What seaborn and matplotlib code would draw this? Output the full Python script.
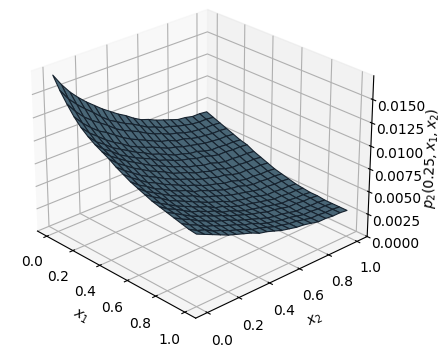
import numpy as np
import matplotlib
matplotlib.use("Agg")
import matplotlib.pyplot as plt
import seaborn as sns

# surface heights, rows x1, columns x2, in units of 1e-4
x1_values = [i / 20 for i in range(21)]
x2_values = [i / 20 for i in range(21)]
p2_values = [
    [171, 158, 147, 138, 130, 123, 116, 110, 104, 99, 93, 88, 85, 81, 78, 75, 72, 71, 69, 69, 68],
    [158, 146, 137, 129, 122, 114, 107, 102, 97, 93, 88, 83, 80, 76, 74, 71, 69, 67, 66, 66, 65],
    [147, 136, 127, 120, 114, 108, 101, 96, 92, 88, 83, 79, 76, 72, 70, 67, 65, 64, 63, 63, 62],
    [137, 127, 119, 112, 107, 101, 95, 90, 86, 82, 78, 74, 72, 68, 67, 64, 62, 61, 60, 60, 59],
    [129, 120, 113, 106, 100, 95, 89, 85, 81, 78, 74, 70, 68, 65, 63, 61, 59, 58, 57, 57, 56],
    [123, 114, 108, 101, 96, 91, 86, 82, 77, 74, 70, 66, 64, 61, 60, 57, 55, 55, 54, 54, 53],
    [118, 110, 104, 97, 92, 87, 83, 79, 74, 71, 67, 64, 62, 59, 58, 55, 53, 53, 52, 52, 51],
    [114, 106, 100, 94, 89, 84, 79, 75, 71, 67, 64, 60, 58, 55, 54, 51, 49, 49, 48, 48, 47],
    [110, 102, 96, 90, 85, 80, 76, 72, 67, 64, 61, 57, 55, 52, 51, 48, 46, 46, 45, 45, 44],
    [105, 98, 92, 86, 81, 77, 72, 68, 64, 61, 57, 54, 52, 49, 48, 45, 43, 43, 42, 42, 41],
    [101, 94, 88, 82, 78, 73, 69, 65, 61, 58, 54, 51, 49, 46, 45, 42, 40, 40, 39, 39, 38],
    [97, 90, 85, 79, 75, 70, 66, 63, 58, 56, 52, 49, 46, 44, 43, 40, 38, 38, 37, 37, 36],
    [94, 87, 82, 77, 72, 68, 64, 61, 56, 53, 50, 47, 44, 42, 40, 38, 36, 36, 35, 35, 34],
    [91, 85, 80, 74, 70, 66, 62, 58, 54, 51, 48, 44, 42, 40, 39, 36, 34, 34, 33, 33, 32],
    [88, 82, 77, 72, 68, 64, 60, 57, 52, 50, 46, 43, 41, 39, 37, 35, 33, 33, 32, 32, 31],
    [86, 80, 76, 71, 66, 63, 59, 56, 51, 49, 45, 42, 40, 38, 36, 34, 32, 32, 31, 31, 30],
    [84, 79, 74, 69, 65, 62, 58, 55, 51, 48, 45, 42, 40, 37, 36, 34, 32, 32, 31, 31, 30],
    [82, 77, 73, 68, 64, 60, 57, 54, 50, 47, 44, 41, 38, 36, 35, 33, 31, 31, 30, 30, 29],
    [80, 75, 71, 66, 63, 59, 56, 53, 49, 47, 43, 40, 38, 36, 35, 33, 31, 31, 30, 30, 29],
    [78, 73, 70, 65, 62, 58, 55, 52, 48, 46, 43, 40, 38, 36, 35, 33, 31, 31, 30, 30, 29],
    [77, 73, 69, 65, 61, 58, 55, 52, 48, 46, 43, 40, 38, 36, 35, 33, 31, 31, 30, 30, 29],
]
z_ticks = [0.0, 0.0025, 0.005, 0.0075, 0.01, 0.0125, 0.015]

sns.reset_orig()
surface_color = sns.color_palette("Blues", 6)[2]

X1, X2 = np.meshgrid(x1_values, x2_values, indexing="ij")
Z = np.array(p2_values) * 1e-4

fig = plt.figure(figsize=(4.45, 3.52), dpi=100)
ax = fig.add_axes([-0.115, 0.02, 1.115, 1.05], projection="3d")
ax.plot_surface(X1, X2, Z, color=surface_color, edgecolor="#16222e", linewidth=0.8,
                rstride=1, cstride=1, shade=True)
ax.view_init(elev=26, azim=-43)
ax.set_box_aspect((4, 4, 3))
ax.set_zlim(0, 0.0175)
ax.set_zticks(z_ticks)
ax.set_xlabel("$x_1$")
ax.set_ylabel("$x_2$")
ax.set_zlabel("$p_2(0.25, x_1, x_2)$")

fig.savefig("out.png", dpi=100)
